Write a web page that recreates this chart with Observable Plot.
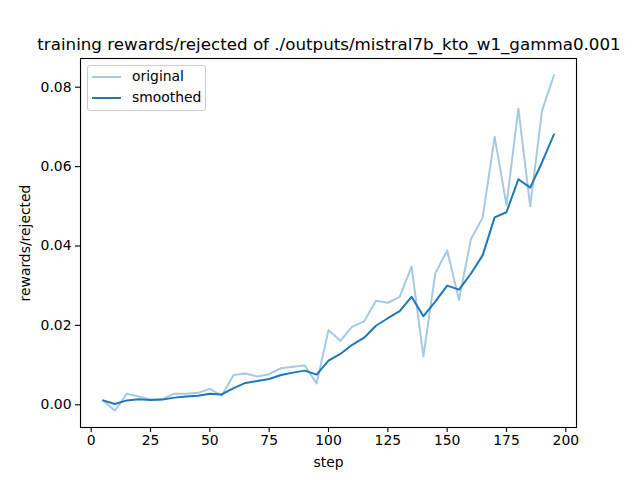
<!DOCTYPE html>
<html>
<head>
<meta charset="utf-8">
<script src="https://cdn.jsdelivr.net/npm/d3@7"></script>
<script src="https://cdn.jsdelivr.net/npm/@observablehq/plot@0.6"></script>
<style>
  body { margin: 0; background: #fff; }
  #wrap { position: relative; width: 640px; height: 480px; font-family: "DejaVu Sans", sans-serif; }
  #title { position: absolute; left: 0; width: 658px; top: 34px; text-align: center; font-size: 16.7px; color: #000; white-space: nowrap; }
  #legend { position: absolute; left: 87px; top: 65px; width: 117px; height: 44px; border: 1px solid #cccccc; border-radius: 3px; background: rgba(255,255,255,0.8); font-size: 13.9px; }
  .row { position: absolute; left: 0; height: 20px; }
  .sw { position: absolute; left: 4px; width: 29px; height: 2px; }
  .lab { position: absolute; left: 44px; white-space: nowrap; }
</style>
</head>
<body>
<div id="wrap">
  <div id="chart"></div>
  <div id="title">training rewards/rejected of ./outputs/mistral7b_kto_w1_gamma0.001</div>
  <div id="legend"></div>
</div>
<script>
const steps = [5,10,15,20,25,30,35,40,45,50,55,60,65,70,75,80,85,90,95,100,105,110,115,120,125,130,135,140,145,150,155,160,165,170,175,180,185,190,195];
const original = [0.0011,-0.0015,0.0028,0.0021,0.0013,0.0014,0.0028,0.0028,0.0030,0.0040,0.0023,0.0075,0.0079,0.0071,0.0077,0.0092,0.0096,0.0099,0.0054,0.0188,0.0161,0.0197,0.0210,0.0262,0.0257,0.0272,0.0348,0.0122,0.0331,0.0389,0.0264,0.0417,0.0472,0.0675,0.0503,0.0746,0.0500,0.0741,0.0830];
const smoothed = [0.0011,0.0002,0.0011,0.0014,0.0012,0.0013,0.0018,0.0021,0.0023,0.0028,0.0026,0.0042,0.0055,0.0060,0.0065,0.0075,0.0081,0.0086,0.0076,0.0111,0.0128,0.0151,0.0169,0.0199,0.0218,0.0236,0.0272,0.0223,0.0260,0.0300,0.0290,0.0330,0.0377,0.0472,0.0485,0.0568,0.0547,0.0611,0.0681];
const seriesNames = ["original", "smoothed"];
const seriesColors = ["#a5c9e1", "#1f77b4"];
const xTicks = [0,25,50,75,100,125,150,175,200];
const yTicks = [0.00,0.02,0.04,0.06,0.08];

const rows = [];
steps.forEach((s, i) => {
  rows.push({step: s, value: original[i], series: seriesNames[0]});
});
steps.forEach((s, i) => {
  rows.push({step: s, value: smoothed[i], series: seriesNames[1]});
});

function padded(vals) {
  const lo = d3.min(vals), hi = d3.max(vals), m = (hi - lo) * 0.05;
  return [lo - m, hi + m];
}
const xDom = padded(steps);
const yDom = padded(original.concat(smoothed));

const plot = Plot.plot({
  width: 640,
  height: 480,
  marginLeft: 80,
  marginRight: 64,
  marginTop: 58,
  marginBottom: 53,
  style: {fontFamily: "DejaVu Sans, sans-serif", fontSize: "13.9px", color: "#000", background: "#fff"},
  x: {domain: xDom},
  y: {domain: yDom},
  marks: [
    Plot.line(rows.filter(d => d.series === "original"), {x: "step", y: "value", stroke: seriesColors[0], strokeWidth: 2}),
    Plot.line(rows.filter(d => d.series === "smoothed"), {x: "step", y: "value", stroke: seriesColors[1], strokeWidth: 2}),
    Plot.frame({stroke: "#000", strokeWidth: 1.1}),
    Plot.axisX({ticks: xTicks, tickSize: 5, tickPadding: 3, strokeWidth: 1.1, label: "step", labelAnchor: "center", labelArrow: "none", labelOffset: 39, fontSize: 13.9}),
    Plot.axisY({ticks: yTicks, tickSize: 5, tickPadding: 4, strokeWidth: 1.1, tickFormat: d3.format(".2f"), label: "rewards/rejected", labelAnchor: "center", labelArrow: "none", labelOffset: 60, fontSize: 13.9})
  ]
});
document.getElementById("chart").appendChild(plot);

const legend = document.getElementById("legend");
seriesNames.forEach((name, i) => {
  const row = document.createElement("div");
  row.className = "row";
  row.style.top = (i === 0 ? 1 : 22) + "px";
  row.innerHTML = `<div class="sw" style="top:9px;background:${seriesColors[i]}"></div><div class="lab" style="top:1px">${name}</div>`;
  legend.appendChild(row);
});
</script>
</body>
</html>
